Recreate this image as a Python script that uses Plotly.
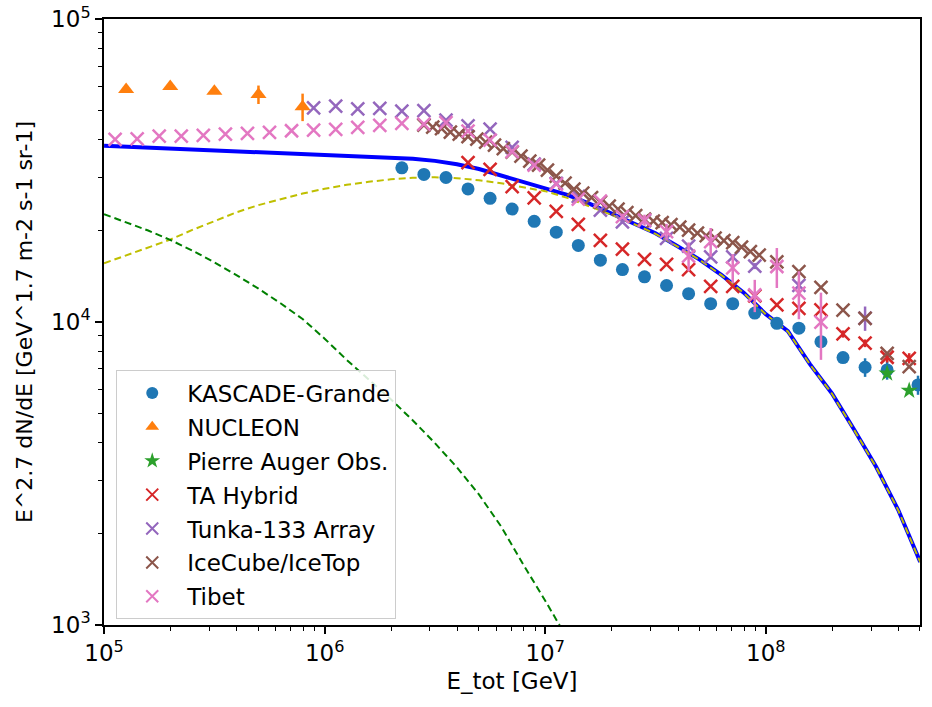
import plotly.graph_objects as go

# ---------------- data (log10 E/GeV for x, flux E^2.7 dN/dE for y) ----------------
kascade_logE = [6.35, 6.45, 6.55, 6.65, 6.75, 6.85, 6.95, 7.05, 7.15, 7.25, 7.35, 7.45,
                7.55, 7.65, 7.75, 7.85, 7.95, 8.05, 8.15, 8.25, 8.35, 8.45, 8.55, 8.69]
kascade_flux = [32300, 30700, 30000, 27500, 25600, 23600, 21500, 19800, 17900, 16000, 14900, 14100,
                13200, 12400, 11500, 11500, 10700, 9900, 9540, 8610, 7630, 7090, 6950, 6200]
kascade_err = [300, 300, 300, 300, 250, 250, 200, 200, 200, 200, 150, 150,
               150, 150, 150, 150, 150, 150, 150, 200, 230, 500, 500, 450]

nucleon_logE = [5.1, 5.3, 5.5, 5.7, 5.9]
nucleon_flux = [58600, 59900, 57800, 56400, 51400]
nucleon_err = [600, 700, 900, 3950, 5350]

auger_logE = [8.55, 8.65]
auger_flux = [6770, 5940]
auger_err = [150, 120]

ta_logE = [6.65, 6.75, 6.85, 6.95, 7.05, 7.15, 7.25, 7.35, 7.45, 7.55, 7.65,
           7.75, 7.85, 7.95, 8.05, 8.15, 8.25, 8.35, 8.45, 8.55, 8.65]
ta_flux = [33600, 31900, 28000, 25700, 23200, 21000, 18600, 17400, 16100, 15500, 14900,
           13100, 13100, 12200, 11400, 11100, 10960, 9130, 8510, 7650, 7590]
ta_err = [300, 300, 250, 250, 200, 200, 200, 150, 150, 150, 150,
          150, 150, 150, 150, 200, 200, 250, 250, 300, 300]

tunka_logE = [5.95, 6.05, 6.15, 6.25, 6.35, 6.45, 6.55, 6.65, 6.75, 6.85, 6.95, 7.05,
              7.15, 7.25, 7.35, 7.45, 7.55, 7.65, 7.75, 7.85, 7.95, 8.15, 8.45]
tunka_flux = [50900, 51600, 50500, 50700, 49700, 49900, 46400, 44400, 43300, 37700, 33200, 28700,
              26000, 23400, 21400, 21600, 18900, 17800, 16400, 16400, 15300, 13200, 10300]
tunka_err = [500, 500, 500, 500, 500, 500, 450, 450, 450, 400, 350, 300,
             300, 250, 250, 250, 250, 250, 300, 300, 350, 450, 950]

icecube_logE = [6.45, 6.49, 6.53, 6.57, 6.61, 6.65, 6.69, 6.73, 6.77, 6.81,
                6.85, 6.89, 6.93, 6.97, 7.01, 7.05, 7.09, 7.13, 7.17, 7.21,
                7.25, 7.29, 7.33, 7.37, 7.41, 7.45, 7.49, 7.53, 7.57, 7.61,
                7.65, 7.69, 7.73, 7.77, 7.81, 7.85, 7.89, 7.93, 7.97,
                8.05, 8.15, 8.25, 8.35, 8.45, 8.55, 8.65]
icecube_flux = [44690, 44010, 43510, 42370, 41730, 40940, 40180, 39270, 38390, 37380,
                36400, 35310, 33990, 32980, 31750, 30330, 28750, 27470, 26650, 25760,
                24890, 24150, 23610, 22980, 22460, 21870, 21540, 21300, 20980, 20580,
                20120, 19660, 19300, 18930, 18580, 18300, 17680, 17090, 16640,
                15810, 14660, 13020, 10950, 10280, 7880, 7120]

tibet_logE = [5.05, 5.15, 5.25, 5.35, 5.45, 5.55, 5.65, 5.75, 5.85, 5.95, 6.05,
              6.15, 6.25, 6.35, 6.45, 6.55, 6.65, 6.75, 6.85, 6.95, 7.05, 7.15,
              7.25, 7.35, 7.45, 7.55, 7.65, 7.75, 7.85, 7.95, 8.05, 8.15, 8.25]
tibet_flux = [40090, 40270, 41110, 41110, 41330, 41730, 41960, 42280, 42800, 43030, 43250,
              43920, 44590, 45270, 45030, 45540, 42700, 39870, 36530, 32980, 28530, 25460,
              25070, 22290, 21710, 19890, 16510, 18440, 15080, 12280, 15250, 12460, 10000]
tibet_err = [300, 300, 300, 300, 300, 300, 300, 300, 300, 300, 300,
             300, 300, 300, 300, 300, 300, 300, 300, 300, 300, 300,
             400, 500, 900, 1200, 1800, 2000, 1650, 1500, 2300, 2250, 2500]

# model curves (log10 E, log10 flux)
model_logE = [5.0, 5.1, 5.2, 5.3, 5.4, 5.5, 5.6, 5.7, 5.8, 5.9, 6.0, 6.1, 6.2, 6.3, 6.4,
              6.5, 6.6, 6.7, 6.8, 6.9, 7.0, 7.1, 7.2, 7.3, 7.4, 7.5, 7.6, 7.7, 7.8, 7.9,
              8.0, 8.1, 8.2, 8.3, 8.4, 8.5, 8.6, 8.7]
total_logflux = [4.582, 4.579, 4.577, 4.574, 4.571, 4.568, 4.565, 4.563, 4.560, 4.557,
                 4.554, 4.551, 4.547, 4.544, 4.539, 4.532, 4.521, 4.505, 4.484, 4.463,
                 4.442, 4.420, 4.391, 4.358, 4.326, 4.293, 4.250, 4.206, 4.155, 4.097,
                 4.026, 3.970, 3.861, 3.764, 3.645, 3.522, 3.380, 3.208]
comp2_logflux = [4.194, 4.220, 4.246, 4.272, 4.304, 4.334, 4.362, 4.386, 4.406, 4.424,
                 4.440, 4.453, 4.463, 4.471, 4.476, 4.478, 4.475, 4.468, 4.458, 4.446,
                 4.432, 4.410, 4.383, 4.354, 4.324, 4.291, 4.249, 4.205, 4.154, 4.096,
                 4.025, 3.969, 3.860, 3.763, 3.644, 3.521, 3.379, 3.207]
comp1_logE = [5.0, 5.1, 5.2, 5.3, 5.4, 5.5, 5.6, 5.7, 5.8, 5.9, 6.0, 6.1,
              6.2, 6.3, 6.4, 6.5, 6.6, 6.7, 6.8, 6.9, 7.0, 7.1, 7.2]
comp1_logflux = [4.356, 4.330, 4.302, 4.271, 4.236, 4.197, 4.155, 4.110, 4.062, 4.010, 3.945, 3.875,
                 3.810, 3.745, 3.675, 3.600, 3.520, 3.430, 3.325, 3.200, 3.080, 2.955, 2.820]

xtick_vals = [1e5, 1e6, 1e7, 1e8]
xtick_text = ["10<sup>5</sup>", "10<sup>6</sup>", "10<sup>7</sup>", "10<sup>8</sup>"]
ytick_vals = [1e3, 1e4, 1e5]
ytick_text = ["10<sup>3</sup>", "10<sup>4</sup>", "10<sup>5</sup>"]


def p10(v):
    return [10 ** a for a in v]


fig = go.Figure()

# model lines
fig.add_trace(go.Scatter(x=p10(model_logE), y=p10(total_logflux), mode="lines",
                         line=dict(color="#0000ff", width=4), showlegend=False))
fig.add_trace(go.Scatter(x=p10(model_logE), y=p10(comp2_logflux), mode="lines",
                         line=dict(color="#bfbf00", width=2, dash="7px,4px"), showlegend=False))
fig.add_trace(go.Scatter(x=p10(comp1_logE), y=p10(comp1_logflux), mode="lines",
                         line=dict(color="#008000", width=2, dash="7px,4px"), showlegend=False))


def add_data(name, logE, flux, err, color, symbol, size, lw=0):
    marker = dict(symbol=symbol, size=size, color=color)
    if lw:
        marker["line"] = dict(width=lw, color=color)
    else:
        marker["line"] = dict(width=0)
    kw = {}
    if err is not None:
        kw["error_y"] = dict(type="data", array=err, color=color, thickness=2.5, width=0)
    fig.add_trace(go.Scatter(x=p10(logE), y=flux, mode="markers", name=name, marker=marker,
                             legendgroup=name, **kw))


add_data("KASCADE-Grande", kascade_logE, kascade_flux, kascade_err, "#1f77b4", "circle", 13)
add_data("NUCLEON", nucleon_logE, nucleon_flux, nucleon_err, "#ff7f0e", "triangle-up", 14)
add_data("Pierre Auger Obs.", auger_logE, auger_flux, auger_err, "#2ca02c", "star", 13)
add_data("TA Hybrid", ta_logE, ta_flux, ta_err, "#d62728", "x-thin", 13, lw=2.5)
add_data("Tunka-133 Array", tunka_logE, tunka_flux, tunka_err, "#9467bd", "x-thin", 13, lw=2.5)
add_data("IceCube/IceTop", icecube_logE, icecube_flux, None, "#8c564b", "x-thin", 13, lw=2.5)
add_data("Tibet", tibet_logE, tibet_flux, tibet_err, "#e377c2", "x-thin", 13, lw=2.5)

axis_common = dict(type="log", showgrid=False, zeroline=False, showline=True, mirror=True,
                   linecolor="black", linewidth=1.5, ticks="outside", ticklen=7, tickwidth=1.5,
                   tickcolor="black", tickfont=dict(size=23, color="black"), automargin=False)

minor_x = [m * 10 ** e for e in range(5, 9) for m in range(2, 10)]
minor_y = [m * 10 ** e for e in range(3, 5) for m in range(2, 10)]

fig.update_layout(
    width=932, height=707,
    margin=dict(l=104, r=12, t=19, b=82, autoexpand=False),
    plot_bgcolor="white", paper_bgcolor="white",
    font=dict(family="DejaVu Sans", size=22, color="black"),
    xaxis=dict(range=[4.9997, 8.699], tickvals=xtick_vals, ticktext=xtick_text,
               title=dict(text="E_tot [GeV]", font=dict(size=23), standoff=8),
               minor=dict(tickvals=minor_x, ticks="outside", ticklen=4, tickwidth=1.2,
                          tickcolor="black", showgrid=False),
               **axis_common),
    yaxis=dict(range=[2.9997, 5.0004], tickvals=ytick_vals, ticktext=ytick_text,
               title=dict(text="E^2.7 dN/dE [GeV^1.7 m-2 s-1 sr-1]", font=dict(size=22), standoff=12),
               minor=dict(tickvals=minor_y, ticks="outside", ticklen=4, tickwidth=1.2,
                          tickcolor="black", showgrid=False),
               **axis_common),
    legend=dict(x=0.015, y=0.42, xanchor="left", yanchor="top",
                bgcolor="rgba(255,255,255,0.85)", bordercolor="#cccccc", borderwidth=1,
                font=dict(size=23), tracegroupgap=1, itemsizing="constant", itemwidth=60),
)

fig.write_html("out.html", config={"displayModeBar": False},
               post_script="document.body.style.margin='0';document.body.style.overflow='hidden';")
